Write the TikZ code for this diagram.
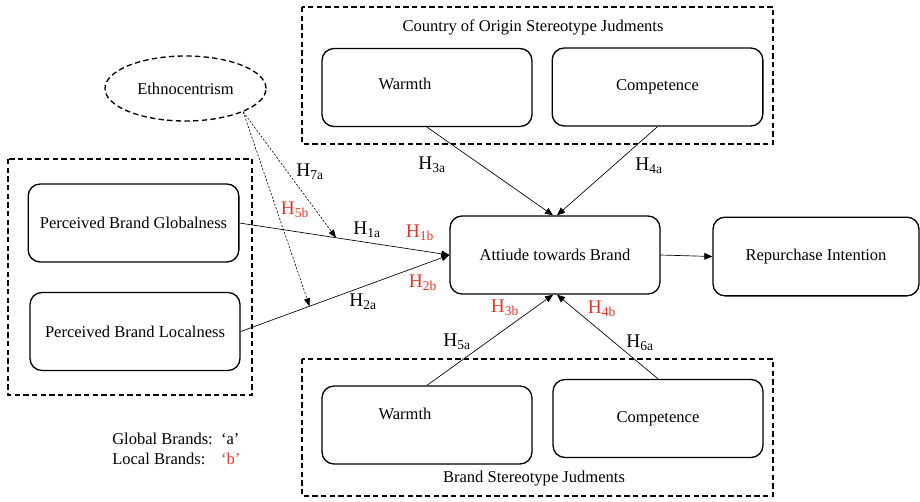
\documentclass[tikz,border=0pt]{standalone}
\usepackage{fontspec}
\setmainfont{Liberation Serif}
\usetikzlibrary{positioning, shapes.geometric, arrows.meta, calc}
\definecolor{hred}{RGB}{232,52,40}

\begin{document}
\begin{tikzpicture}[x=0.75pt, y=-0.75pt, font=\fontsize{12.4}{15}\selectfont,
    box/.style={draw, line width=1pt, rounded corners=9pt, minimum width=157.5pt, minimum height=58.5pt, inner sep=0pt},
    group/.style={draw, line width=1pt, dash pattern=on 4pt off 2.5pt},
    arr/.style={-{Triangle[length=6pt,width=5pt]}, line width=0.5pt},
    darr/.style={-{Triangle[length=6pt,width=4.5pt]}, line width=0.45pt, dash pattern=on 1.6pt off 1.2pt},
    hyp/.style={inner sep=0pt, font=\fontsize{14.5}{16}\selectfont},
    rhyp/.style={hyp, text=hred}]

      \useasboundingbox (0,0) rectangle (920,501);

      % groups
      \draw[group] (302,7) rectangle (773,144);
      \node (cootitle) at (533,27) {Country of Origin Stereotype Judments};
      \draw[group] (302,359) rectangle (773,496);
      \node (bstitle) at (534,479) {Brand Stereotype Judments};
      \draw[group] (8,159) rectangle (252,395);

      % constructs
      \node[box, minimum width=157.5pt, label={[name=wtt, xshift=-16.5pt, yshift=2.5pt]center:Warmth}] (wt) at (427,87.5) {};
      \node[box, minimum width=158pt] (ct) at (657.5,87) {Competence};
      \node[box, label={[name=wbt, xshift=-16.5pt, yshift=8pt]center:Warmth}] (wb) at (427,425) {};
      \node[box] (cb) at (658,418.5) {Competence};
      \node[draw, ellipse, line width=1pt, dash pattern=on 4pt off 2.5pt, minimum width=120.75pt, minimum height=48.75pt, inner sep=0pt] (eth) at (185.5,88.5) {Ethnocentrism};
      \node[box, minimum width=158pt] (pbg) at (133.5,223) {Perceived Brand Globalness};
      \node[box] (pbl) at (135,331.5) {Perceived Brand Localness};
      \node[box] (att) at (555,255) {Attiude towards Brand};
      \node[box, minimum width=154.5pt, minimum height=59pt] (rpi) at (816,256.5) {Repurchase Intention};

      % paths
      \draw[arr] (wt.south) -- ([xshift=-1.5pt]att.north);
      \draw[arr] (ct.south) -- ([xshift=1.5pt]att.north);
      \draw[arr] (wb.north) -- ([xshift=-1.5pt]att.south);
      \draw[arr] (cb.north) -- ([xshift=1.5pt]att.south);
      \draw[arr] (pbg.east) -- (att.west);
      \draw[arr] (pbl.east) -- (att.west);
      \draw[arr] (att.east) -- (rpi.west);

      \coordinate (m1) at ($(pbg.east)!0.46!(att.west)$);
      \coordinate (m2) at ($(pbl.east)!0.33!(att.west)$);
      \draw[darr] (eth.-22) -- (m1);
      \draw[darr] (eth.-22) -- (m2);

      % hypotheses
      \node[hyp] (h7a) at (310,172) {H\textsubscript{7a}};
      \node[rhyp] (h5b) at (295,210) {H\textsubscript{5b}};
      \node[hyp] (h1a) at (367,230) {H\textsubscript{1a}};
      \node[rhyp] (h1b) at (420,233) {H\textsubscript{1b}};
      \node[rhyp] (h2b) at (423,283) {H\textsubscript{2b}};
      \node[hyp] (h2a) at (363,302) {H\textsubscript{2a}};
      \node[hyp] (h3a) at (432,165) {H\textsubscript{3a}};
      \node[hyp] (h4a) at (649,166) {H\textsubscript{4a}};
      \node[rhyp] (h3b) at (505,308) {H\textsubscript{3b}};
      \node[rhyp] (h4b) at (602,309) {H\textsubscript{4b}};
      \node[hyp] (h5a) at (457,342) {H\textsubscript{5a}};
      \node[hyp] (h6a) at (640,343) {H\textsubscript{6a}};

      % legend
      \node[anchor=west, inner sep=0pt] (legend) at (112,450) {\begin{tabular}{@{}l@{\ \ }l@{}}
          Global Brands: & ‘a’\\
          Local Brands: & \textcolor{hred}{‘b’}
        \end{tabular}};

\end{tikzpicture}
\end{document}
